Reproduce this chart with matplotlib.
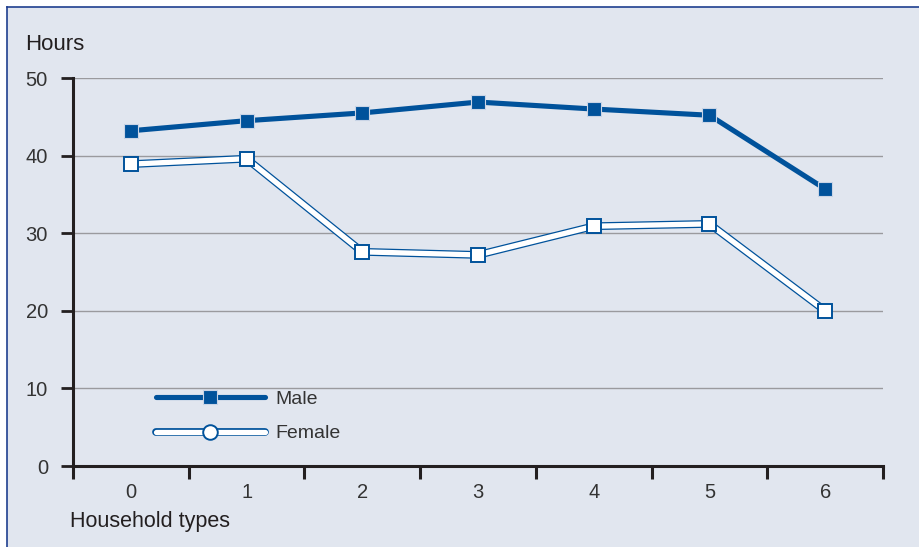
import matplotlib
matplotlib.use("Agg")
import matplotlib.pyplot as plt
from matplotlib.patches import Rectangle
from matplotlib.lines import Line2D
from matplotlib.legend_handler import HandlerTuple

# data
household_types = [0, 1, 2, 3, 4, 5, 6]
male = [43.2, 44.5, 45.5, 46.9, 46.0, 45.2, 35.7]
female = [38.9, 39.6, 27.6, 27.2, 30.9, 31.2, 20.0]
y_ticks = [0, 10, 20, 30, 40, 50]

blue = '#00529B'
bg = '#E1E6EF'
dark = '#231F20'
txt = '#333333'

plt.rcParams['font.family'] = ['Liberation Sans', 'DejaVu Sans']

W, H = 919, 547
fig = plt.figure(figsize=(W / 100, H / 100), dpi=100)
fig.patch.set_facecolor('white')

# panel background with dark blue top/left edge
fig.patches.append(Rectangle((7 / W, 0), 1, 1 - 7 / H, transform=fig.transFigure,
                             facecolor=bg, edgecolor='none', zorder=-5))
fig.add_artist(Line2D([7 / W, 1], [1 - 7 / H, 1 - 7 / H], color='#1F3F8F', lw=1.2, zorder=-4))
fig.add_artist(Line2D([7 / W, 7 / W], [0, 1 - 7 / H], color='#1F3F8F', lw=1.2, zorder=-4))

ax = fig.add_axes([73 / W, 1 - 466 / H, (883 - 73) / W, (466 - 78) / H])
ax.set_facecolor('none')
ax.set_zorder(1)

# gridlines
for v in y_ticks[1:]:
    ax.axhline(v, color='#9A9A9E', lw=1.0, zorder=1)

# male
ax.plot(household_types, male, color=blue, lw=3.7, solid_capstyle='round', zorder=3)
ax.plot(household_types, male, ls='none', marker='s', ms=10.5, mfc=blue, mec='#C9D4E6', mew=0.8, zorder=5)

# female: white line with blue outline
ax.plot(household_types, female, color=blue, lw=5.6, zorder=3)
ax.plot(household_types, female, color='white', lw=3.8, zorder=3.1)
ax.plot(household_types, female, ls='none', marker='s', ms=10.5, mfc='white', mec=blue, mew=1.4, zorder=5)

ax.set_xlim(-0.5, 6.5)
ax.set_ylim(0, 50)

for s in ['top', 'right']:
    ax.spines[s].set_visible(False)
for s in ['left', 'bottom']:
    ax.spines[s].set_color(dark)
    ax.spines[s].set_linewidth(2.2)

ax.set_yticks(y_ticks)
ax.tick_params(axis='y', direction='out', length=9, width=2, color=dark, pad=9,
               labelsize=14.5, labelcolor=txt)
ax.set_xticks(household_types)
ax.set_xticks([i - 0.5 for i in range(8)], minor=True)
ax.tick_params(axis='x', which='major', length=0, pad=12, labelsize=14.5, labelcolor=txt)
ax.tick_params(axis='x', which='minor', direction='out', length=9, width=2.2, color=dark)

fig.text(25 / W, 1 - 45 / H, 'Hours', fontsize=16, color=dark, va='center', ha='left')
fig.text(70 / W, 1 - 521 / H, 'Household types', fontsize=15.5, color=dark, va='center', ha='left')

# legend
h_male = (Line2D([], [], color=blue, lw=3.7, solid_capstyle='round'),
          Line2D([], [], ls='none', marker='s', ms=10.5, mfc=blue, mec='#C9D4E6', mew=0.8))
h_female = (Line2D([], [], color=blue, lw=5.6, solid_capstyle='round'),
            Line2D([], [], color='white', lw=3.8, solid_capstyle='round'),
            Line2D([], [], ls='none', marker='o', ms=10.5, mfc='white', mec=blue, mew=1.4))
leg = fig.legend([h_male, h_female], ['Male', 'Female'],
                 handler_map={tuple: HandlerTuple(ndivide=1, pad=0)},
                 loc='center left', bbox_to_anchor=(156 / W, 1 - 416.5 / H),
                 frameon=False, fontsize=14, labelcolor=txt, handlelength=5.6,
                 handletextpad=0.55, labelspacing=0.85, borderpad=0, borderaxespad=0)
leg.set_zorder(6)

fig.savefig('out.png', dpi=100, facecolor=fig.get_facecolor())
